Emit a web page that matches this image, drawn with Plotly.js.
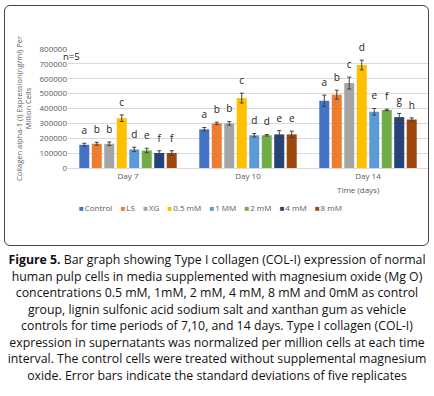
<!DOCTYPE html>
<html><head><meta charset="utf-8">
<script src="https://cdn.plot.ly/plotly-3.0.1.min.js"></script>
<style>
body{margin:0;background:#fff;width:434px;height:396px;overflow:hidden;position:relative;font-family:"Open Sans",sans-serif}
#chart{position:absolute;left:0;top:0;width:434px;height:250px}
#frame{position:absolute;left:4px;top:5px;width:423px;height:239px;border:1px solid #444;border-radius:6px;pointer-events:none}
#cap{position:absolute;left:0px;top:252px;width:434px;text-align:center;font-size:12.3px;line-height:16.5px;color:#111;white-space:nowrap}
</style></head><body>
<div id="chart"></div><div id="frame"></div>
<div id="cap"><b>Figure 5.</b> Bar graph showing Type I collagen (COL-I) expression of normal<br>human pulp cells in media supplemented with magnesium oxide (Mg O)<br>concentrations 0.5 mM, 1mM, 2 mM, 4 mM, 8 mM and 0mM as control<br>group, lignin sulfonic acid sodium salt and xanthan gum as vehicle<br>controls for time periods of 7,10, and 14 days. Type I collagen (COL-I)<br>expression in supernatants was normalized per million cells at each time<br>interval. The control cells were treated without supplemental magnesium<br>oxide. Error bars indicate the standard deviations of five replicates</div>
<script>
const days = ["Day 7", "Day 10", "Day 14"];
const seriesNames = ["Control", "LS", "XG", "0.5 mM", "1 MM", "2 mM", "4 mM", "8 mM"];
const seriesColors = ["#4472C4", "#ED7D31", "#A5A5A5", "#FFC000", "#5B9BD5", "#70AD47", "#264478", "#9E480E"];
const control = [156000, 260000, 452000];
const ls      = [163000, 300000, 493000];
const xg      = [163000, 300000, 571000];
const mM05    = [335000, 470000, 692000];
const mM1     = [125000, 220000, 378000];
const mM2     = [118000, 220000, 390000];
const mM4     = [101000, 226000, 342000];
const mM8     = [101000, 226000, 326000];
const errControl = [10000, 12000, 38000];
const errLS      = [10000, 8000, 30000];
const errXG      = [12000, 12000, 40000];
const err05      = [22000, 33000, 33000];
const err1       = [15000, 12000, 22000];
const err2       = [15000, 5000, 5000];
const err4       = [15000, 25000, 25000];
const err8       = [15000, 22000, 11000];
const letControl = ["a", "a", "a"];
const letLS      = ["b", "b", "b"];
const letXG      = ["b", "b", "c"];
const let05      = ["c", "c", "d"];
const let1       = ["d", "d", "e"];
const let2       = ["e", "d", "f"];
const let4       = ["f", "e", "g"];
const let8       = ["f", "e", "h"];

const values = [control, ls, xg, mM05, mM1, mM2, mM4, mM8];
const errors = [errControl, errLS, errXG, err05, err1, err2, err4, err8];
const letters = [letControl, letLS, letXG, let05, let1, let2, let4, let8];

const traces = [];
values.forEach((v, i) => {
  traces.push({
    type: "bar", name: seriesNames[i], x: days, y: v,
    marker: {color: seriesColors[i]},
    error_y: {type: "data", array: errors[i], visible: true, color: "#404040", thickness: 1, width: 2},
    showlegend: false, hoverinfo: "skip"
  });
});
values.forEach((v, i) => {
  traces.push({
    type: "scatter", mode: "markers+text", x: days, y: v.map((y, j) => y + errors[i][j]),
    marker: {size: 9, opacity: 0},
    text: letters[i], textposition: "top center",
    textfont: {family: "Open Sans", size: 10, color: "#222"},
    showlegend: false, hoverinfo: "skip", cliponaxis: false
  });
});

const legendText = seriesNames.map((n, i) => `<span style="color:${seriesColors[i]}">■</span>&#8202;${n}`).join("&nbsp;&nbsp;&nbsp;&nbsp;");

const layout = {
  width: 434, height: 250,
  margin: {l: 68, r: 6, t: 49, b: 82},
  paper_bgcolor: "rgba(0,0,0,0)", plot_bgcolor: "#fff",
  barmode: "group", bargap: 0.167, bargroupgap: 0.2,
  scattermode: "group", scattergap: 0.167,
  font: {family: "Open Sans", color: "#595959"},
  xaxis: {type: "category", showgrid: false, showline: false, zeroline: false, ticks: "",
          ticklabelstandoff: 2, tickfont: {size: 8, color: "#595959"}},
  yaxis: {range: [0, 800000], dtick: 100000, tickformat: "d", gridcolor: "#d9d9d9", gridwidth: 1,
          zeroline: true, zerolinecolor: "#d9d9d9", showline: false, ticks: "",
          tickfont: {size: 8, color: "#595959"},
          title: {text: "Collagen alpha-1 (I) Expression(ng/ml) Per<br>Million Cells", standoff: 6,
                  font: {size: 7.5, color: "#595959"}}},
  annotations: [
    {xref: "paper", yref: "paper", x: -0.02, y: 0.933, xanchor: "left", yanchor: "middle",
     text: "n=5", showarrow: false, font: {size: 9.5, color: "#222"}},
    {xref: "paper", yref: "paper", x: 0.806, y: -0.182, xanchor: "center", yanchor: "middle",
     text: "Time (days)", showarrow: false, font: {size: 8, color: "#595959"}},
    {xref: "paper", yref: "paper", x: 0.397, y: -0.328, xanchor: "center", yanchor: "middle",
     text: legendText, showarrow: false, font: {size: 8, color: "#595959"}}
  ]
};
Plotly.newPlot("chart", traces, layout, {displayModeBar: false, staticPlot: true});
</script>
</body></html>
